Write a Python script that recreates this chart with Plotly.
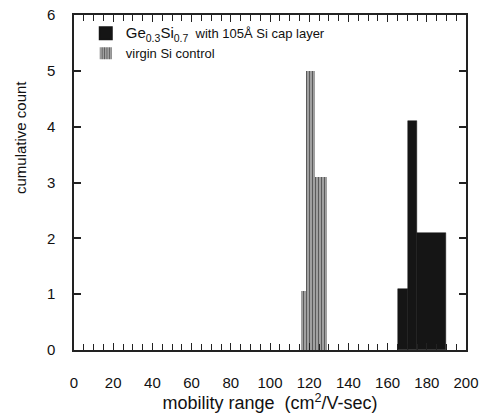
import plotly.graph_objects as go

# bin edges (mobility, cm^2/V-sec) and cumulative counts
gesi_edges = [165.5, 170.5, 175.0, 190.0]
gesi_counts = [1.1, 4.1, 2.1]
si_edges = [116.0, 118.5, 123.0, 129.0]
si_counts = [1.05, 5.0, 3.1]

x_ticks = [0, 20, 40, 60, 80, 100, 120, 140, 160, 180, 200]
y_ticks = [0, 1, 2, 3, 4, 5, 6]


def centers(edges):
    return [(a + b) / 2 for a, b in zip(edges[:-1], edges[1:])]


def widths(edges):
    return [b - a for a, b in zip(edges[:-1], edges[1:])]


fig = go.Figure()
fig.add_trace(go.Bar(
    x=centers(gesi_edges), y=gesi_counts, width=widths(gesi_edges),
    name="<span style='font-size:15px'>Ge<sub>0.3</sub>Si<sub>0.7</sub></span>  with 105Å Si cap layer",
    marker=dict(color="#151515", line=dict(color="#151515", width=0.5)),
))
fig.add_trace(go.Bar(
    x=centers(si_edges), y=si_counts, width=widths(si_edges),
    name="virgin Si control",
    marker=dict(color="#a0a0a0", line=dict(width=0),
                pattern=dict(shape="|", fgcolor="#5a5a5a", bgcolor="#a8a8a8",
                             size=3, solidity=0.4)),
))

font = dict(family="Liberation Sans, Arial, sans-serif", size=15, color="#111")
axcol = "#222"

fig.update_layout(
    template="none",
    width=483, height=417,
    margin=dict(l=74, r=17, t=15, b=67, autoexpand=False),
    paper_bgcolor="white", plot_bgcolor="white",
    barmode="overlay", bargap=0,
    font=font,
    showlegend=True,
    legend=dict(x=0.03, y=0.99, xanchor="left", yanchor="top",
                bgcolor="rgba(0,0,0,0)", font=dict(size=13, color="#111"),
                tracegroupgap=0, itemsizing="constant"),
    xaxis=dict(
        range=[0, 200], tickmode="array", tickvals=x_ticks,
        ticks="inside", ticklen=7, tickwidth=1.2,
        tickcolor=axcol, showline=True, linecolor=axcol, linewidth=1.5,
        mirror="allticks", showgrid=False, zeroline=False,
        ticklabelstandoff=18,
        minor=dict(dtick=5, tick0=0, ticks="inside", ticklen=6, tickwidth=1.2,
                   tickcolor=axcol, showgrid=False),
        title=dict(text="mobility range  (cm<sup>2</sup>/V-sec)",
                   font=dict(size=18), standoff=3),
    ),
    yaxis=dict(
        range=[0, 6], tickmode="array", tickvals=y_ticks,
        ticks="inside", ticklen=7, tickwidth=1.5,
        tickcolor=axcol, showline=True, linecolor=axcol, linewidth=1.5,
        mirror="allticks", showgrid=False, zeroline=False,
        ticklabelstandoff=14,
    ),
    annotations=[dict(
        text="cumulative count", textangle=-90, xref="paper", yref="paper",
        x=-0.135, y=0.633, xanchor="center", yanchor="middle", showarrow=False,
        font=dict(size=15, color="#111"),
    )],
)

fig.write_html("out.html", config={"displayModeBar": False})
with open("out.html", encoding="utf-8") as f:
    html = f.read()
html = html.replace("<head>", "<head><style>html,body{margin:0;padding:0;}</style>", 1)
with open("out.html", "w", encoding="utf-8") as f:
    f.write(html)
